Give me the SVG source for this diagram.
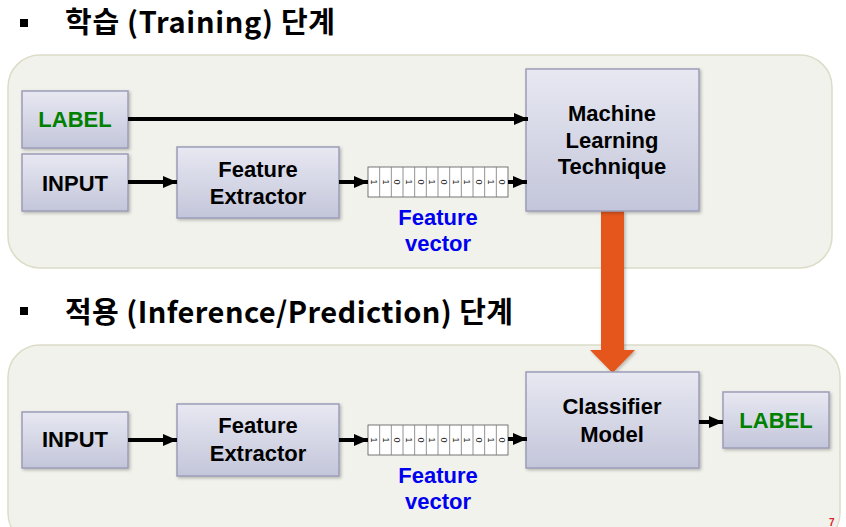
<svg xmlns="http://www.w3.org/2000/svg" width="846" height="527" viewBox="0 0 846 527">
<defs>
<linearGradient id="boxg" x1="0" y1="0" x2="0" y2="1">
<stop offset="0" stop-color="#E8E8F2"/>
<stop offset="1" stop-color="#C3C6DA"/>
</linearGradient>
<filter id="sh" x="-10%" y="-10%" width="130%" height="130%">
<feDropShadow dx="1.5" dy="1.5" stdDeviation="1.5" flood-color="#000" flood-opacity="0.25"/>
</filter>
<marker id="ah" markerWidth="14" markerHeight="12" refX="14" refY="6" orient="auto" markerUnits="userSpaceOnUse">
<path d="M0,0 L14,6 L0,12 z" fill="#000"/>
</marker>
<g id="digits">
<rect x="0" y="0" width="140" height="30" fill="#fff" stroke="#555" stroke-width="0.8"/>
<g stroke="#777" stroke-width="0.8">
<line x1="11.67" y1="0" x2="11.67" y2="30"/><line x1="23.33" y1="0" x2="23.33" y2="30"/>
<line x1="35" y1="0" x2="35" y2="30"/><line x1="46.67" y1="0" x2="46.67" y2="30"/>
<line x1="58.33" y1="0" x2="58.33" y2="30"/><line x1="70" y1="0" x2="70" y2="30"/>
<line x1="81.67" y1="0" x2="81.67" y2="30"/><line x1="93.33" y1="0" x2="93.33" y2="30"/>
<line x1="105" y1="0" x2="105" y2="30"/><line x1="116.67" y1="0" x2="116.67" y2="30"/>
<line x1="128.33" y1="0" x2="128.33" y2="30"/>
</g>
<g class="dg">
<text transform="translate(5.8,15) rotate(90)">1</text>
<text transform="translate(17.5,15) rotate(90)">1</text>
<text transform="translate(29.2,15) rotate(90)">0</text>
<text transform="translate(40.8,15) rotate(90)">1</text>
<text transform="translate(52.5,15) rotate(90)">0</text>
<text transform="translate(64.2,15) rotate(90)">1</text>
<text transform="translate(75.8,15) rotate(90)">0</text>
<text transform="translate(87.5,15) rotate(90)">1</text>
<text transform="translate(99.2,15) rotate(90)">1</text>
<text transform="translate(110.8,15) rotate(90)">0</text>
<text transform="translate(122.5,15) rotate(90)">1</text>
<text transform="translate(134.2,15) rotate(90)">0</text>
</g>
</g>
</defs>
<style>
.panel{fill:#F2F2EC;stroke:#DCDCC8;stroke-width:1.5}
.box{fill:url(#boxg);stroke:#9C9CB8;stroke-width:1.5;filter:url(#sh)}
.t{font-family:"Liberation Sans",Arial,sans-serif;font-weight:bold;font-size:22px;fill:#000;text-anchor:middle}
.g{fill:#008000}
.fv{font-family:"Liberation Sans",Arial,sans-serif;font-weight:bold;font-size:22px;fill:#0000F0;text-anchor:middle}
.title{font-family:"Noto Sans CJK KR","Noto Sans",sans-serif;font-weight:bold;font-size:29px;fill:#000}
.dg text{font-family:"Liberation Sans",Arial,sans-serif;font-size:9px;fill:#222;text-anchor:middle;dominant-baseline:central}
.conn line{stroke:#000;stroke-width:4;marker-end:url(#ah)}
</style>
<rect width="846" height="527" fill="#fff"/>

<g id="title1">
<rect x="20" y="19" width="8" height="8" fill="#000"/>
<text class="title" x="65" y="33" textLength="270" lengthAdjust="spacing">학습 (Training) 단계</text>
</g>
<g id="title2">
<rect x="20" y="307" width="8" height="8" fill="#000"/>
<text class="title" x="65" y="323" textLength="448" lengthAdjust="spacing">적용 (Inference/Prediction) 단계</text>
</g>

<g id="panel-train"><rect class="panel" x="8" y="55" width="824" height="213" rx="32"/></g>
<g id="panel-infer"><rect class="panel" x="8" y="345" width="832" height="200" rx="32"/></g>

<g id="orange-arrow">
<path d="M601,211 L624,211 L624,350 L635,350 L612.5,373 L590,350 L601,350 z" fill="#E4561E" filter="url(#sh)"/>
</g>

<g id="label-train">
<rect class="box" x="22" y="91" width="106" height="57"/>
<text class="t g" x="75" y="127">LABEL</text>
</g>
<g id="input-train">
<rect class="box" x="22" y="154" width="106" height="57"/>
<text class="t" x="75" y="191">INPUT</text>
</g>
<g id="fe-train">
<rect class="box" x="177" y="147" width="162" height="71"/>
<text class="t" x="258" y="177">Feature</text>
<text class="t" x="258" y="204">Extractor</text>
</g>
<g id="fv-train">
<use href="#digits" x="368" y="167"/>
<text class="fv" x="438" y="225">Feature</text>
<text class="fv" x="438" y="251">vector</text>
</g>
<g id="ml">
<rect class="box" x="526" y="69" width="173" height="142"/>
<text class="t" x="612" y="121">Machine</text>
<text class="t" x="612" y="148">Learning</text>
<text class="t" x="612" y="174">Technique</text>
</g>

<g id="input-infer">
<rect class="box" x="22" y="412" width="106" height="56"/>
<text class="t" x="75" y="447">INPUT</text>
</g>
<g id="fe-infer">
<rect class="box" x="177" y="404" width="162" height="72"/>
<text class="t" x="258" y="433">Feature</text>
<text class="t" x="258" y="461">Extractor</text>
</g>
<g id="fv-infer">
<use href="#digits" x="368" y="425"/>
<text class="fv" x="438" y="483">Feature</text>
<text class="fv" x="438" y="509">vector</text>
</g>
<g id="classifier">
<rect class="box" x="526" y="372" width="173" height="96"/>
<text class="t" x="612" y="414">Classifier</text>
<text class="t" x="612" y="442">Model</text>
</g>
<g id="label-infer">
<rect class="box" x="723" y="392" width="106" height="56"/>
<text class="t g" x="776" y="428">LABEL</text>
</g>

<g id="connectors" class="conn">
<line x1="128" y1="119" x2="528" y2="119"/>
<line x1="128" y1="182" x2="177" y2="182"/>
<line x1="339" y1="182" x2="368" y2="182"/>
<line x1="508" y1="182" x2="527" y2="182"/>
<line x1="128" y1="440" x2="177" y2="440"/>
<line x1="339" y1="440" x2="368" y2="440"/>
<line x1="508" y1="439" x2="527" y2="439"/>
<line x1="699" y1="422" x2="723" y2="422"/>
</g>

<text x="829" y="526" font-family="Liberation Sans,Arial,sans-serif" font-weight="bold" font-size="10" fill="#E02020">7</text>
</svg>
